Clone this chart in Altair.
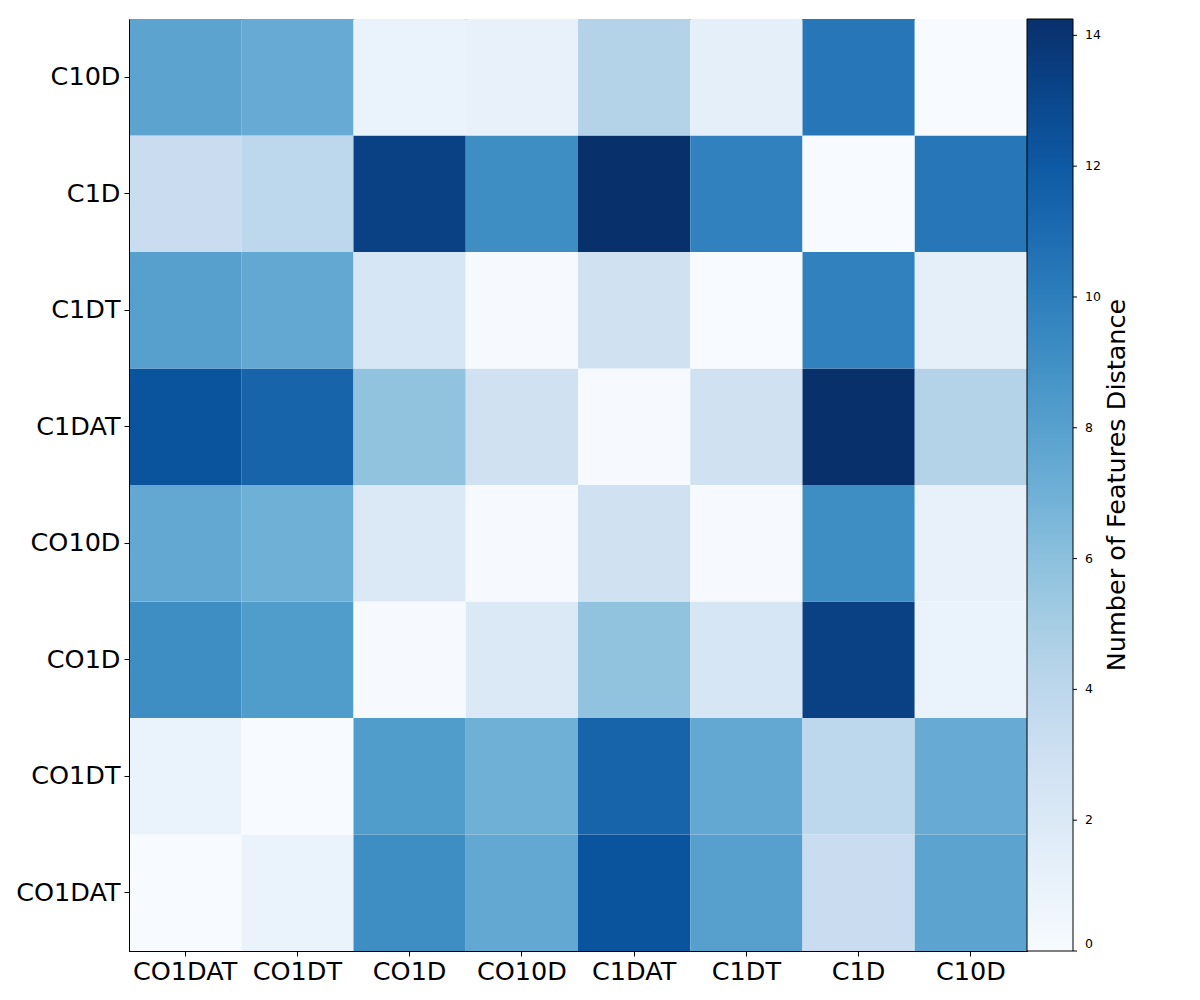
import altair as alt
import pandas as pd

labels = ["CO1DAT", "CO1DT", "CO1D", "CO10D", "C1DAT", "C1DT", "C1D", "C10D"]
y_order = ["C10D", "C1D", "C1DT", "C1DAT", "CO10D", "CO1D", "CO1DT", "CO1DAT"]

row_CO1DAT = [0.0, 0.9, 9.1, 7.5, 12.3, 8.0, 3.3, 7.8]
row_CO1DT = [0.9, 0.0, 8.3, 7.0, 11.4, 7.5, 4.0, 7.3]
row_CO1D = [9.1, 8.3, 0.1, 2.0, 5.8, 2.3, 13.3, 0.9]
row_CO10D = [7.5, 7.0, 2.0, 0.1, 2.8, 0.1, 9.1, 1.1]
row_C1DAT = [12.3, 11.4, 5.8, 2.8, 0.1, 2.8, 14.2, 4.4]
row_C1DT = [8.0, 7.5, 2.3, 0.1, 2.8, 0.0, 9.8, 1.3]
row_C1D = [3.3, 4.0, 13.3, 9.1, 14.2, 9.8, 0.0, 10.4]
row_C10D = [7.8, 7.3, 0.9, 1.1, 4.4, 1.3, 10.4, 0.0]

colorbar_ticks = [0, 2, 4, 6, 8, 10, 12, 14]

rows = {
    "CO1DAT": row_CO1DAT, "CO1DT": row_CO1DT, "CO1D": row_CO1D, "CO10D": row_CO10D,
    "C1DAT": row_C1DAT, "C1DT": row_C1DT, "C1D": row_C1D, "C10D": row_C10D,
}

records = []
for rname, vals in rows.items():
    for cname, v in zip(labels, vals):
        records.append({"row": rname, "col": cname, "value": v})
df = pd.DataFrame(records)

vmax = 14.25
blues = ["#f7fbff", "#deebf7", "#c6dbef", "#9ecae1", "#6baed6",
         "#4292c6", "#2171b5", "#08519c", "#08306b"]
stops = [vmax * i / 8 for i in range(9)]
cscale = alt.Scale(domain=stops, range=blues, type="linear")

W, H = 898, 932
CBW = 46
FONT = "DejaVu Sans"
FS = 25.5

heat = alt.Chart(df).mark_rect().encode(
    x=alt.X("col:N", sort=labels, title=None,
            scale=alt.Scale(paddingInner=0, paddingOuter=0),
            axis=alt.Axis(labelAngle=0, labelFontSize=FS, labelFont=FONT,
                          labelColor="black", tickColor="black", tickSize=5,
                          domainColor="black", labelPadding=3)),
    y=alt.Y("row:N", sort=y_order, title=None,
            scale=alt.Scale(paddingInner=0, paddingOuter=0),
            axis=alt.Axis(labelFontSize=FS, labelFont=FONT, labelColor="black",
                          tickColor="black", tickSize=5, domainColor="black",
                          labelPadding=4)),
    color=alt.Color("value:Q", scale=cscale,
                    legend=alt.Legend(type="gradient", title=None, orient="right",
                                      offset=0, padding=0,
                                      direction="vertical", gradientLength=H,
                                      gradientThickness=CBW,
                                      gradientStrokeColor="black",
                                      gradientStrokeWidth=1,
                                      values=colorbar_ticks,
                                      labelFontSize=12.5, labelFont=FONT,
                                      labelColor="black", labelOffset=12)),
)

tick_df = pd.DataFrame({"v": colorbar_ticks})
cb_ticks = alt.Chart(tick_df).mark_rule(color="black", strokeWidth=1).encode(
    y=alt.Y("v:Q", scale=alt.Scale(domain=[0, vmax], nice=False, zero=True), axis=None),
    x=alt.value(W + CBW),
    x2=alt.value(W + CBW + 4),
)

title_df = pd.DataFrame({"t": ["Number of Features Distance"]})
title = alt.Chart(title_df).mark_text(
    angle=270, fontSize=FS, font=FONT, color="black", baseline="middle", align="center"
).encode(text="t:N", x=alt.value(W + 90), y=alt.value(H / 2))

chart = alt.layer(heat, cb_ticks, title).resolve_scale(y="independent").properties(
    width=W, height=H, padding={"left": 7, "top": 11, "right": 5, "bottom": 5}
).configure_view(stroke="black", strokeWidth=1).configure_axis(grid=False)

chart.save("out.html", embed_options={"renderer": "svg", "actions": False})
